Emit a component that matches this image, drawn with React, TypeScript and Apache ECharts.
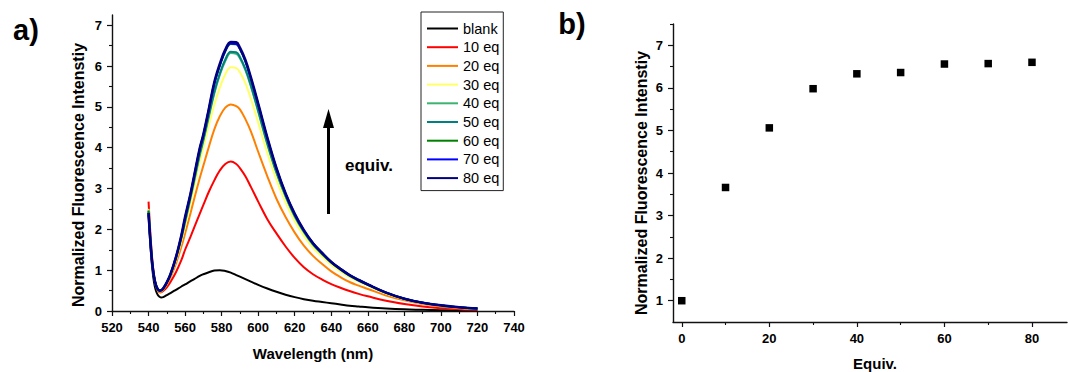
import React, { useEffect, useRef } from "react";
import * as echarts from "echarts";

// ---------- Panel a: emission spectra ----------
const WAVELENGTHS = [540, 541, 542, 543, 544, 545, 546, 547, 548, 550, 552, 555, 558, 560, 563, 565, 568, 570, 573, 576, 579, 582, 585, 588, 590, 593, 596, 600, 605, 610, 615, 620, 625, 630, 635, 640, 645, 650, 655, 660, 670, 680, 690, 700, 710, 720];

const BLANK = [2.35, 1.62, 1.06, 0.7, 0.5, 0.4, 0.35, 0.33, 0.34, 0.39, 0.44, 0.52, 0.6, 0.65, 0.73, 0.78, 0.86, 0.9, 0.95, 0.99, 1.0, 0.98, 0.94, 0.88, 0.84, 0.78, 0.72, 0.64, 0.55, 0.47, 0.4, 0.34, 0.29, 0.25, 0.22, 0.19, 0.16, 0.13, 0.11, 0.09, 0.06, 0.04, 0.03, 0.02, 0.01, 0.01];
const EQ10 = [2.68, 1.9, 1.28, 0.88, 0.64, 0.52, 0.46, 0.46, 0.49, 0.58, 0.71, 0.95, 1.25, 1.5, 1.82, 2.05, 2.38, 2.6, 2.92, 3.2, 3.44, 3.6, 3.66, 3.6, 3.5, 3.3, 3.04, 2.68, 2.25, 1.9, 1.58, 1.3, 1.07, 0.9, 0.77, 0.66, 0.57, 0.49, 0.42, 0.36, 0.25, 0.17, 0.11, 0.07, 0.04, 0.03];
const EQ20 = [2.45, 1.75, 1.2, 0.84, 0.62, 0.51, 0.46, 0.47, 0.51, 0.64, 0.82, 1.16, 1.58, 1.9, 2.4, 2.75, 3.25, 3.56, 4.02, 4.45, 4.77, 4.98, 5.06, 5.02, 4.94, 4.7, 4.4, 3.9, 3.3, 2.75, 2.3, 1.92, 1.6, 1.35, 1.15, 0.97, 0.83, 0.71, 0.62, 0.54, 0.38, 0.26, 0.17, 0.11, 0.07, 0.05];
const EQ30 = [2.5, 1.78, 1.22, 0.86, 0.64, 0.53, 0.49, 0.5, 0.54, 0.68, 0.87, 1.25, 1.72, 2.08, 2.65, 3.05, 3.65, 4.0, 4.55, 5.05, 5.47, 5.8, 5.97, 5.95, 5.85, 5.58, 5.2, 4.62, 3.87, 3.22, 2.66, 2.2, 1.84, 1.55, 1.33, 1.13, 0.97, 0.83, 0.72, 0.62, 0.43, 0.29, 0.19, 0.13, 0.08, 0.05];
const EQ40 = [2.48, 1.76, 1.2, 0.85, 0.64, 0.53, 0.49, 0.5, 0.54, 0.69, 0.88, 1.28, 1.78, 2.17, 2.77, 3.18, 3.8, 4.17, 4.75, 5.33, 5.78, 6.12, 6.32, 6.3, 6.19, 5.9, 5.5, 4.88, 4.08, 3.38, 2.8, 2.31, 1.93, 1.62, 1.39, 1.18, 1.01, 0.86, 0.74, 0.64, 0.44, 0.3, 0.2, 0.13, 0.09, 0.06];
const EQ50 = [2.42, 1.73, 1.19, 0.84, 0.64, 0.53, 0.5, 0.51, 0.55, 0.7, 0.89, 1.3, 1.8, 2.2, 2.8, 3.22, 3.85, 4.2, 4.8, 5.37, 5.82, 6.16, 6.35, 6.34, 6.22, 5.93, 5.53, 4.91, 4.11, 3.4, 2.82, 2.33, 1.95, 1.64, 1.4, 1.19, 1.02, 0.87, 0.75, 0.64, 0.45, 0.3, 0.2, 0.14, 0.09, 0.06];
const EQ60 = [2.45, 1.74, 1.19, 0.84, 0.64, 0.54, 0.5, 0.51, 0.55, 0.7, 0.9, 1.31, 1.84, 2.27, 2.86, 3.3, 3.95, 4.3, 4.92, 5.57, 6.0, 6.36, 6.54, 6.53, 6.41, 6.11, 5.69, 5.05, 4.22, 3.48, 2.87, 2.37, 1.97, 1.66, 1.42, 1.2, 1.03, 0.88, 0.76, 0.65, 0.45, 0.3, 0.2, 0.14, 0.09, 0.06];
const EQ70 = [2.38, 1.71, 1.18, 0.84, 0.64, 0.54, 0.5, 0.51, 0.55, 0.7, 0.9, 1.32, 1.85, 2.28, 2.87, 3.31, 3.97, 4.31, 4.94, 5.58, 6.02, 6.37, 6.55, 6.54, 6.42, 6.12, 5.7, 5.06, 4.23, 3.49, 2.87, 2.37, 1.97, 1.66, 1.42, 1.2, 1.03, 0.88, 0.76, 0.65, 0.45, 0.3, 0.2, 0.14, 0.09, 0.06];
const EQ80 = [2.4, 1.72, 1.18, 0.84, 0.64, 0.54, 0.5, 0.51, 0.55, 0.7, 0.9, 1.32, 1.86, 2.3, 2.88, 3.32, 3.98, 4.32, 4.95, 5.6, 6.05, 6.4, 6.59, 6.58, 6.45, 6.15, 5.72, 5.08, 4.25, 3.5, 2.88, 2.38, 1.98, 1.66, 1.42, 1.2, 1.03, 0.88, 0.76, 0.65, 0.45, 0.3, 0.2, 0.14, 0.09, 0.06];

const SERIES_NAMES = ["blank", "10 eq", "20 eq", "30 eq", "40 eq", "50 eq", "60 eq", "70 eq", "80 eq"];
const SERIES_VALUES = [BLANK, EQ10, EQ20, EQ30, EQ40, EQ50, EQ60, EQ70, EQ80];
const SERIES_COLORS = ["#000000", "#ff0000", "#ff8000", "#ffff66", "#3cb371", "#008080", "#008000", "#0000ff", "#000080"];

const A_X_TICKS = [520, 540, 560, 580, 600, 620, 640, 660, 680, 700, 720, 740];
const A_Y_TICKS = [0, 1, 2, 3, 4, 5, 6, 7];
const A_Y_MINOR = [0.5, 1.5, 2.5, 3.5, 4.5, 5.5, 6.5];

// ---------- Panel b: intensity vs equivalents ----------
const EQUIV = [0, 10, 20, 30, 40, 50, 60, 70, 80];
const INTENSITY = [1.0, 3.66, 5.06, 5.98, 6.33, 6.36, 6.56, 6.57, 6.6];
const B_X_TICKS = [0, 20, 40, 60, 80];
const B_X_MINOR = [10, 30, 50, 70];
const B_Y_TICKS = [1, 2, 3, 4, 5, 6, 7];
const B_Y_MINOR = [1.5, 2.5, 3.5, 4.5, 5.5, 6.5, 7.5];

const FONT = "'Liberation Sans', Arial, Helvetica, sans-serif";
const AXIS_COLOR = "#111";

const axisLineStyle = { show: true, lineStyle: { color: AXIS_COLOR, width: 1.4 } };
const labelStyle = { color: "#000", fontFamily: FONT, fontWeight: "bold" as const, fontSize: 13, margin: 10 };

function majorAxis(gridIndex: number, min: number, max: number, ticks: number[], position: string) {
  return {
    type: "value",
    gridIndex,
    position,
    min,
    max,
    axisLine: { ...axisLineStyle, onZero: false },
    axisTick: { show: true, inside: false, length: 5, customValues: ticks, lineStyle: { color: AXIS_COLOR, width: 1.2 } },
    axisLabel: { ...labelStyle, customValues: ticks },
    splitLine: { show: false },
    minorTick: { show: false },
  };
}

function minorAxis(gridIndex: number, min: number, max: number, ticks: number[], position: string) {
  return {
    type: "value",
    gridIndex,
    position,
    min,
    max,
    axisLine: { show: false, onZero: false },
    axisTick: { show: true, inside: false, length: 3, customValues: ticks, lineStyle: { color: AXIS_COLOR, width: 1.1 } },
    axisLabel: { show: false },
    splitLine: { show: false },
  };
}

function textEl(text: string, x: number, y: number, font: string, align = "center", vAlign = "middle", rotation = 0) {
  return {
    type: "text",
    x,
    y,
    rotation,
    style: {
      text,
      font,
      fill: "#000",
      align,
      verticalAlign: vAlign,
      textAlign: align,
      textVerticalAlign: vAlign,
    },
  };
}

export default function App() {
  const ref = useRef<HTMLDivElement>(null);

  useEffect(() => {
    if (!ref.current) return;
    const chart = echarts.init(ref.current, null, { renderer: "svg" });

    const lineSeries = SERIES_NAMES.map((name, i) => ({
      name,
      type: "line",
      xAxisIndex: 0,
      yAxisIndex: 0,
      data: WAVELENGTHS.map((w, j) => [w, SERIES_VALUES[i][j]]),
      showSymbol: false,
      symbol: "none",
      smooth: 0.4,
      lineStyle: { color: SERIES_COLORS[i], width: i === 8 ? 2.6 : 2 },
      itemStyle: { color: SERIES_COLORS[i], opacity: 0 },
      z: 2 + i,
    }));

    const option = {
      animation: false,
      backgroundColor: "#ffffff",
      textStyle: { fontFamily: FONT },
      grid: [
        { left: 112, top: 15, width: 402, height: 296, containLabel: false },
        { left: 673, top: 24, width: 394, height: 298, containLabel: false },
      ],
      legend: {
        data: SERIES_NAMES,
        orient: "vertical",
        left: 421,
        top: 12,
        padding: [9, 4, 5, 5],
        itemWidth: 31,
        itemHeight: 14,
        itemGap: 3.7,
        borderColor: "#222",
        borderWidth: 1,
        selectedMode: false,
        itemStyle: { opacity: 0 },
        lineStyle: { width: 2 },
        textStyle: { color: "#000", fontFamily: FONT, fontSize: 14.5 },
      },
      xAxis: [
        {
          type: "value",
          gridIndex: 0,
          position: "bottom",
          min: 520,
          max: 740,
          interval: 20,
          axisLine: { ...axisLineStyle, onZero: false },
          axisTick: { show: true, inside: false, length: 5, lineStyle: { color: AXIS_COLOR, width: 1.2 } },
          minorTick: { show: true, splitNumber: 2, length: 3, lineStyle: { color: AXIS_COLOR, width: 1.1 } },
          axisLabel: { ...labelStyle, customValues: A_X_TICKS },
          splitLine: { show: false },
          minorSplitLine: { show: false },
        },
        majorAxis(1, -2, 88, B_X_TICKS, "bottom"),
        minorAxis(1, -2, 88, B_X_MINOR, "bottom"),
      ],
      yAxis: [
        majorAxis(0, 0, 7.25, A_Y_TICKS, "left"),
        minorAxis(0, 0, 7.25, A_Y_MINOR, "left"),
        majorAxis(1, 0.5, 7.5, B_Y_TICKS, "left"),
        minorAxis(1, 0.5, 7.5, B_Y_MINOR, "left"),
      ],
      series: [
        ...lineSeries,
        {
          name: "Normalized intensity",
          type: "scatter",
          xAxisIndex: 1,
          yAxisIndex: 2,
          data: EQUIV.map((e, i) => [e, INTENSITY[i]]),
          symbol: "rect",
          symbolSize: 7.5,
          itemStyle: { color: "#000", opacity: 1 },
        },
      ],
      graphic: [
        textEl("a)", 26, 30, `bold 29px ${FONT}`),
        textEl("b)", 572, 24, `bold 29px ${FONT}`),
        textEl("Normalized Fluorescence Intenstiy", 78, 175, `bold 16px ${FONT}`, "center", "middle", Math.PI / 2),
        textEl("Wavelength (nm)", 313, 353, `bold 15px ${FONT}`),
        textEl("Normalized Fluorescence Intenstiy", 641, 183, `bold 16px ${FONT}`, "center", "middle", Math.PI / 2),
        textEl("Equiv.", 875, 363, `bold 15px ${FONT}`),
        textEl("equiv.", 345, 165, `bold 17px ${FONT}`, "left", "middle"),
        {
          type: "line",
          shape: { x1: 328.5, y1: 214, x2: 328.5, y2: 124 },
          style: { stroke: "#000", lineWidth: 3 },
        },
        {
          type: "polygon",
          shape: { points: [[323, 128], [334, 128], [328.5, 109]] },
          style: { fill: "#000" },
        },
      ],
    };

    chart.setOption(option as any);
    return () => chart.dispose();
  }, []);

  return (
    <div
      ref={ref}
      style={{ position: "absolute", left: 0, top: 0, width: 1068, height: 372, background: "#fff" }}
    />
  );
}
